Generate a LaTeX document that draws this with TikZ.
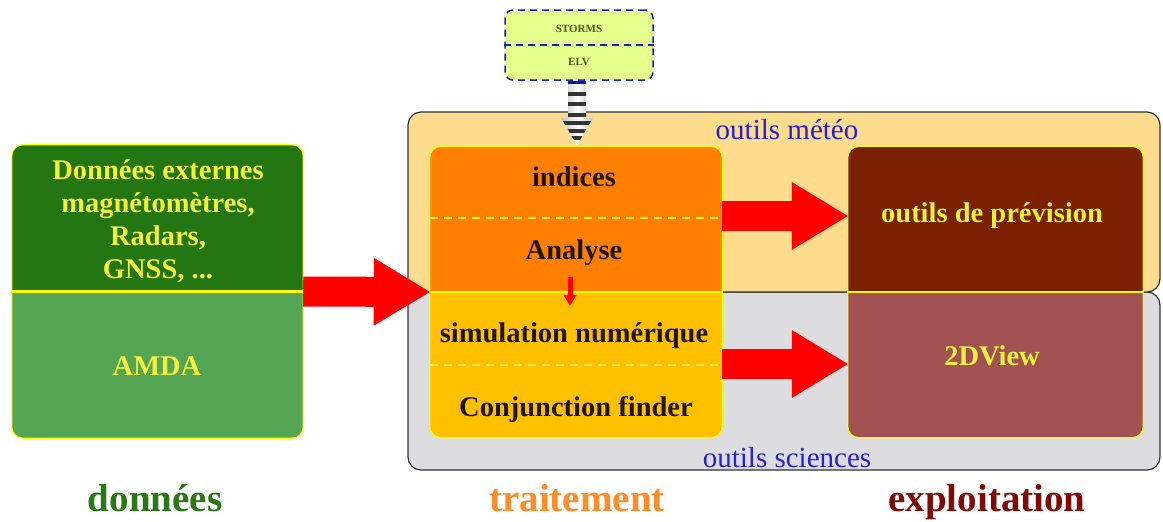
\documentclass[tikz,border=0pt]{standalone}
\usepackage{fontspec}
\setmainfont{Liberation Serif}
\usetikzlibrary{arrows.meta,calc}
\definecolor{gDark}{RGB}{36,118,18}
\definecolor{gLight}{RGB}{84,166,84}
\definecolor{oDark}{RGB}{255,128,0}
\definecolor{oLight}{RGB}{255,192,0}
\definecolor{rDark}{RGB}{123,32,0}
\definecolor{rLight}{RGB}{162,82,82}
\definecolor{cTop}{RGB}{254,220,142}
\definecolor{cBot}{RGB}{221,221,224}
\definecolor{ylw}{RGB}{255,255,0}
\definecolor{txtY}{RGB}{242,242,60}
\definecolor{arrRed}{RGB}{255,0,0}
\definecolor{blueTxt}{RGB}{40,30,210}
\definecolor{stBox}{RGB}{228,255,140}
\definecolor{stLine}{RGB}{20,30,200}
\definecolor{stTxt}{RGB}{70,95,30}
\definecolor{lblGreen}{RGB}{40,120,20}
\definecolor{lblOrange}{RGB}{255,140,40}
\definecolor{lblRed}{RGB}{128,10,8}
\definecolor{dashY}{RGB}{255,235,90}
\definecolor{txtDark}{RGB}{30,20,10}
\begin{document}
\begin{tikzpicture}[x=1pt,y=-1pt,
  panel/.style={rounded corners=11pt, inner sep=0pt, minimum width=292pt, minimum height=291pt},
  rim/.style={draw=ylw, line width=1.2pt, rounded corners=11pt},
  sep/.style={draw=ylw, line width=2.6pt},
  dsep/.style={draw=dashY, line width=1.4pt, dash pattern=on 8pt off 6pt},
  cont/.style={draw=black!80, line width=1.2pt, rounded corners=13pt},
  boxtxt/.style={font=\fontsize{28.5}{33}\selectfont\bfseries, align=center, inner sep=0pt},
  ytxt/.style={boxtxt, text=txtY},
  ktxt/.style={boxtxt, text=txtDark},
  bluetxt/.style={font=\fontsize{29}{32}\selectfont, text=blueTxt, inner sep=0pt},
  lbl/.style={font=\fontsize{39}{42}\selectfont\bfseries, inner sep=0pt, anchor=base},
  bigarrow/.style={draw=arrRed, line width=30pt, -{Triangle[length=56pt,width=68pt,line width=0pt]}},
  smallarrow/.style={draw=arrRed, line width=5pt, -{Triangle[length=11pt,width=13pt,line width=0pt]}}
]
\useasboundingbox (0,0) rectangle (1163,522);
\fill[white] (0,0) rectangle (1163,522);

% container
\draw[cont, fill=cBot] (408,292) rectangle (1160,470);
\draw[cont, fill=cTop] (408,112) rectangle (1160,292);
\node[bluetxt] (meteo) at (787,130) {outils météo};
\node[bluetxt] (sciences) at (787,458) {outils sciences};

% données panel
\node[panel, fill=gLight, minimum width=291pt, minimum height=293pt] (green) at (157.5,291.5) {};
\fill[gDark] (green.west) [rounded corners=11pt] -- (green.north west) -- (green.north east) [sharp corners] -- (green.east) -- cycle;
\draw[rim] (green.north west) rectangle (green.south east);
\draw[sep] (green.west) -- (green.east);
\node[ytxt] (ext) at (158,221) {Données externes\\magnétomètres,\\Radars,\\GNSS, ...};
\node[ytxt] (amda) at (157,366) {AMDA};

% traitement panel
\node[panel, fill=oLight] (proc) at (576,292) {};
\fill[oDark] (proc.west) [rounded corners=11pt] -- (proc.north west) -- (proc.north east) [sharp corners] -- (proc.east) -- cycle;
\draw[dsep] (430,218) -- (722,218);
\draw[dsep] (430,365) -- (722,365);
\draw[rim] (proc.north west) rectangle (proc.south east);
\draw[sep] (proc.west) -- (proc.east);
\node[ktxt] (indices) at (574,177) {indices};
\node[ktxt] (analyse) at (574,253) {Analyse};
\node[ktxt] (simu) at (574,336) {simulation numérique};
\node[ktxt] (conj) at (576,409) {Conjunction finder};

% exploitation panel
\node[panel, fill=rLight, minimum width=295pt] (expl) at (995.5,292) {};
\fill[rDark] (expl.west) [rounded corners=11pt] -- (expl.north west) -- (expl.north east) [sharp corners] -- (expl.east) -- cycle;
\draw[rim] (expl.north west) rectangle (expl.south east);
\draw[sep] (expl.west) -- (expl.east);
\node[ytxt] (prev) at (992,216) {outils de prévision};
\node[ytxt] (view) at (992,356) {2DView};

% storms box
\node[draw=stLine, line width=1.5pt, dash pattern=on 7pt off 5pt, fill=stBox, rounded corners=8pt,
      minimum width=148pt, minimum height=70pt, inner sep=0pt] (storms) at (579,45) {};
\draw[stLine, line width=1.5pt, dash pattern=on 7pt off 5pt] (storms.west) -- (storms.east);
\node[font=\fontsize{11}{13}\selectfont\bfseries, text=stTxt, inner sep=0pt] (st) at (579,29) {STORMS};
\node[font=\fontsize{11}{13}\selectfont\bfseries, text=stTxt, inner sep=0pt] (elv) at (579,62) {ELV};

% striped arrow from storms to traitement
\begin{scope}
\clip ($(storms.south)+(-11,0)$) -- ($(storms.south)+(7,0)$) -- ($(storms.south)+(7,37)$) -- ($(storms.south)+(14,37)$)
      -- ($(proc.north)+(1,-1)$) -- ($(storms.south)+(-18,37)$) -- ($(storms.south)+(-11,37)$) -- cycle;
\shade[left color=gray!70, right color=gray!70, middle color=white] (555,80) rectangle (600,148);
\fill[stLine!70!black] (555,80) rectangle (600,84);
\foreach \yy in {92,102,113,121,129,136} \fill[black!80] (555,\yy) rectangle (600,\yy+3.5);
\end{scope}

% red arrows
\coordinate (a1) at (0,216);
\coordinate (a2) at (0,364);
\draw[bigarrow] (green.east) -- (proc.west);
\draw[bigarrow] (proc.east |- a1) -- (expl.west |- a1);
\draw[bigarrow] (proc.east |- a2) -- (expl.west |- a2);
\coordinate (sa) at (570,277);
\coordinate (sb) at (570,306);
\draw[smallarrow] (sa) -- (sb);

% bottom labels
\node[lbl, text=lblGreen] (ldon) at (155,511) {données};
\node[lbl, text=lblOrange] (ltrt) at (577,511) {traitement};
\node[lbl, text=lblRed] (lexp) at (987,511) {exploitation};
\end{tikzpicture}
\end{document}
